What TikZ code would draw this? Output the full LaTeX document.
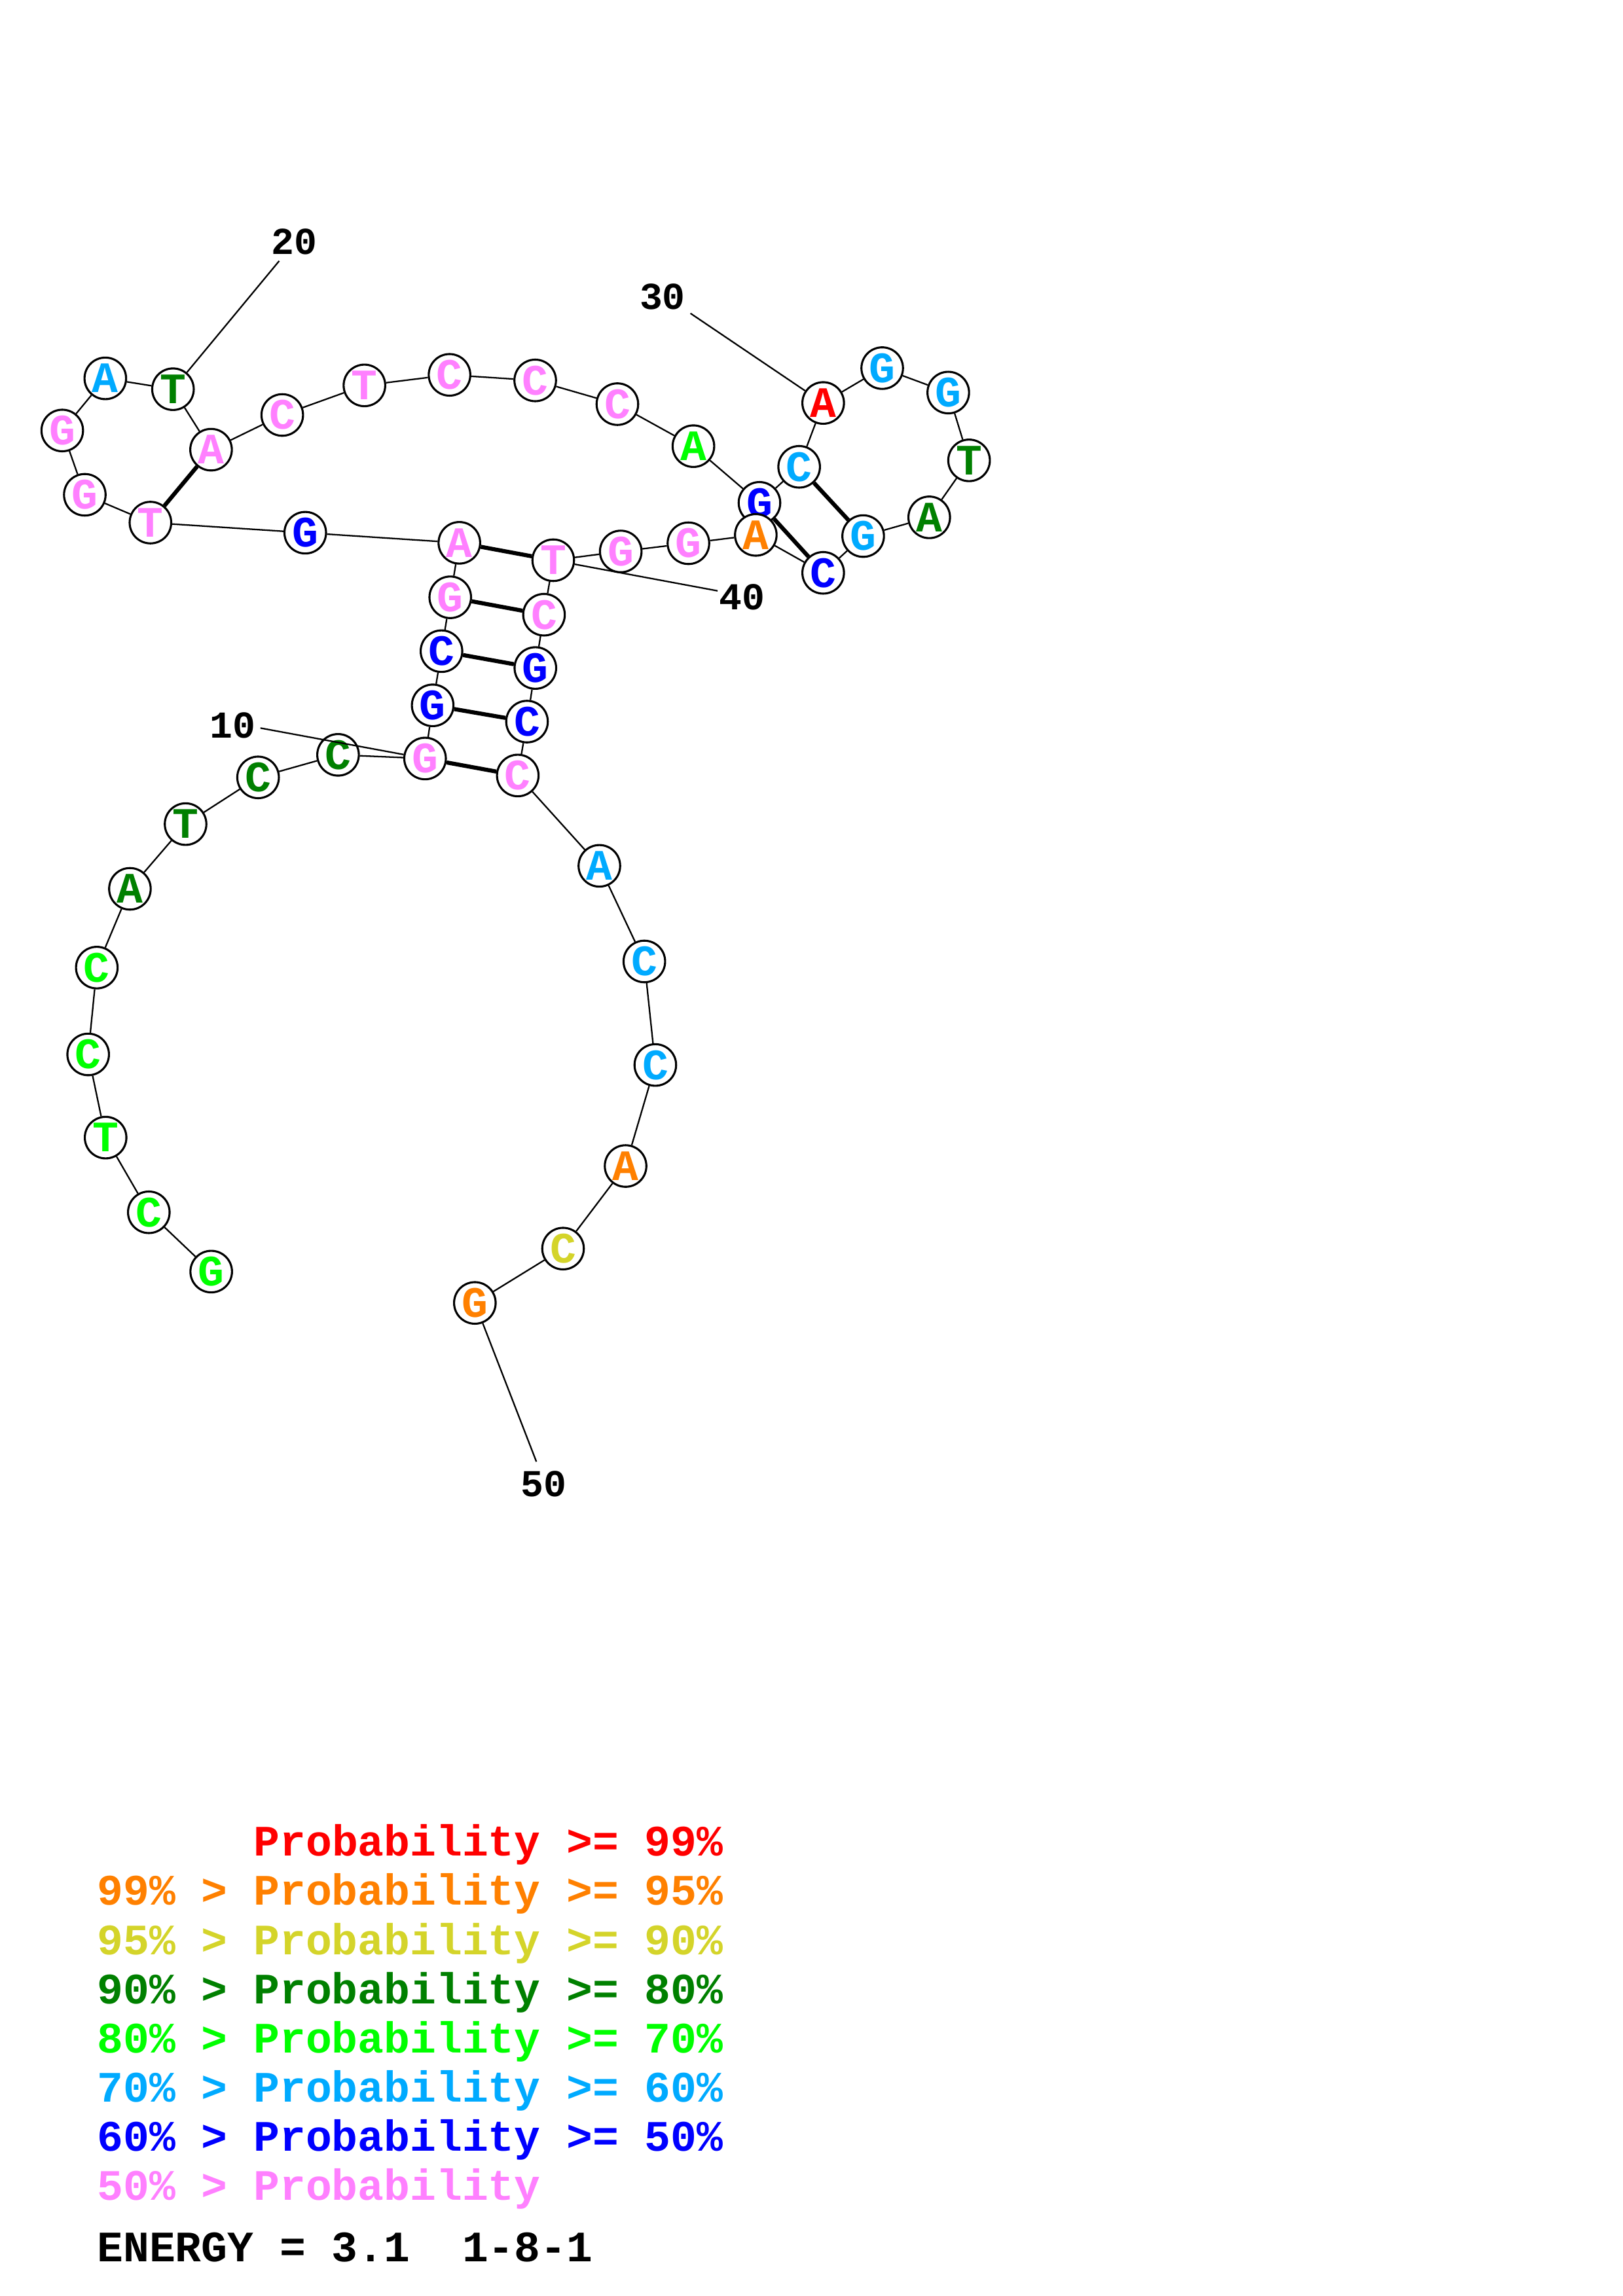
\documentclass[tikz,border=0pt]{standalone}
\usepackage{fontspec}
\setmonofont{Liberation Mono}
\usepackage{xcolor}
\definecolor{pr99}{RGB}{255,0,0}
\definecolor{pr95}{RGB}{255,128,0}
\definecolor{pr90}{RGB}{212,212,42}
\definecolor{pr80}{RGB}{0,128,0}
\definecolor{pr70}{RGB}{0,255,0}
\definecolor{pr60}{RGB}{0,170,255}
\definecolor{pr50}{RGB}{0,0,255}
\definecolor{prbaja}{RGB}{255,128,255}

\begin{document}
\begin{tikzpicture}[x=0.018953cm,y=-0.018953cm,
    base/.style={circle,draw,line width=0.75pt,fill=white,minimum size=0.538cm,
                 inner sep=0pt,font=\fontsize{16}{16}\selectfont\ttfamily\bfseries},
    enlace/.style={line width=0.55pt},
    parbase/.style={line width=1.5pt},
    etiqueta/.style={inner sep=0pt,font=\fontsize{14}{14}\selectfont\ttfamily\bfseries},
    leyenda/.style={anchor=base west,inner sep=0pt,font=\fontsize{16}{16}\selectfont\ttfamily\bfseries}]
    \useasboundingbox (0,0) rectangle (1108,1568);

    % Paso 1: Define los nucleótidos de la cadena
    \foreach \n/\x/\y/\b/\c in {
        1/144.2/868.4/G/pr70, 2/101.6/827.9/C/pr70, 3/72.1/776.9/T/pr70,
        4/60.2/720.1/C/pr70, 5/66.1/660.8/C/pr70, 6/88.7/607.0/A/pr80,
        7/126.7/562.8/T/pr80, 8/176.2/530.9/C/pr80, 9/230.8/515.5/C/pr80,
        10/290.2/518.0/G/prbaja, 11/295.4/481.7/G/pr50, 12/301.4/444.7/C/pr50,
        13/307.4/407.9/G/prbaja, 14/313.6/370.7/A/prbaja, 15/208.4/363.8/G/pr50,
        16/102.7/356.9/T/prbaja, 17/57.9/337.9/G/prbaja, 18/42.5/294.0/G/prbaja,
        19/71.9/258.4/A/pr60, 20/118.1/265.8/T/pr80, 21/144.1/307.1/A/prbaja,
        22/192.7/283.4/C/prbaja, 23/248.8/263.2/T/prbaja, 24/306.9/256.0/C/prbaja,
        25/365.4/259.8/C/prbaja, 26/421.5/276.0/C/prbaja, 27/473.4/304.7/A/pr70,
        28/518.5/343.4/G/pr50, 29/545.6/318.8/C/pr60, 30/562.0/275.2/A/pr99,
        31/602.3/251.4/G/pr60, 32/647.4/268.1/G/pr60, 33/661.6/314.4/T/pr80,
        34/634.4/353.3/A/pr80, 35/589.3/366.1/G/pr60, 36/562.0/391.2/C/pr50,
        37/516.0/365.3/A/pr95, 38/470.0/371.0/G/prbaja, 39/423.8/376.6/G/prbaja,
        40/377.7/382.6/T/prbaja, 41/371.4/419.8/C/prbaja, 42/365.5/456.2/G/pr50,
        43/359.8/492.8/C/pr50, 44/353.5/529.6/C/prbaja, 45/409.2/591.3/A/pr60,
        46/439.9/656.6/C/pr60, 47/447.4/727.3/C/pr60, 48/427.1/796.3/A/pr95,
        49/384.4/852.7/C/pr90, 50/324.2/889.8/G/pr95}
        \node[base,text=\c] (b\n) at (\x,\y) {\b};

    % Paso 2: Une los nucleótidos consecutivos
    \foreach \i [count=\j from 2] in {1,...,49}
        \draw[enlace] (b\i) -- (b\j);

    % Paso 3: Dibuja los pares de bases
    \foreach \i/\j in {10/44,11/43,12/42,13/41,14/40,16/21,28/36,29/35}
        \draw[parbase] (b\i) -- (b\j);

    % Paso 4: Numera la cadena
    \foreach \n/\x/\y/\lx/\ly in {10/177.8/497.2/159.0/495.5, 20/190.6/178.2/200.9/164.9,
        30/471.4/214.0/452.3/202.5, 40/489.9/403.5/506.8/407.7, 50/366.2/998.2/371.0/1013.4}
    {
        \coordinate (l\n) at (\x,\y);
        \node[etiqueta] (n\n) at (\lx,\ly) {\n};
        \draw[enlace] (b\n) -- (l\n);
    }

    % Paso 5: Escribe la leyenda de probabilidades
    \foreach \t/\c [count=\k from 0] in {
        \phantom{99\% > }Probability >= 99\%/pr99,
        99\% > Probability >= 95\%/pr95,
        95\% > Probability >= 90\%/pr90,
        90\% > Probability >= 80\%/pr80,
        80\% > Probability >= 70\%/pr70,
        70\% > Probability >= 60\%/pr60,
        60\% > Probability >= 50\%/pr50,
        50\% > Probability/prbaja}
        \node[leyenda,text=\c] (ley\k) at (66,{1267.5+33.59*\k}) {\t};
    \node[leyenda] (energia) at (66,1544.5) {ENERGY = 3.1\ \ 1-8-1};
\end{tikzpicture}
\end{document}
